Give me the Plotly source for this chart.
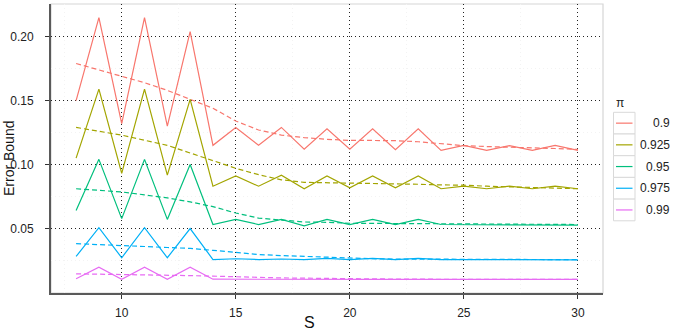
import plotly.graph_objects as go

S = list(range(8, 31))
pi_levels = ["0.9", "0.925", "0.95", "0.975", "0.99"]
colors = ["#F8766D", "#A3A500", "#00BF7D", "#00B0F6", "#E76BF3"]

bound_090 = [0.150, 0.215, 0.132, 0.215, 0.130, 0.204, 0.115, 0.129, 0.115, 0.129, 0.112, 0.128,
             0.112, 0.128, 0.1115, 0.128, 0.111, 0.115, 0.111, 0.1147, 0.111, 0.115, 0.111]
smooth_090 = [0.179, 0.174, 0.169, 0.164, 0.158, 0.151, 0.144, 0.134, 0.127, 0.123, 0.121, 0.1197,
              0.1188, 0.1188, 0.1186, 0.1178, 0.1165, 0.1147, 0.114, 0.1136, 0.113, 0.1125, 0.1118]

bound_0925 = [0.105, 0.159, 0.093, 0.159, 0.0916, 0.151, 0.083, 0.091, 0.083, 0.0916, 0.081, 0.091,
              0.0817, 0.091, 0.0817, 0.091, 0.081, 0.083, 0.081, 0.083, 0.081, 0.083, 0.081]
smooth_0925 = [0.129, 0.126, 0.123, 0.119, 0.115, 0.109, 0.103, 0.097, 0.092, 0.088, 0.086, 0.0858,
               0.0855, 0.085, 0.0848, 0.0845, 0.084, 0.0838, 0.083, 0.0825, 0.082, 0.0815, 0.081]

bound_095 = [0.064, 0.104, 0.0576, 0.104, 0.057, 0.100, 0.053, 0.057, 0.053, 0.057, 0.052, 0.057,
             0.053, 0.057, 0.053, 0.057, 0.053, 0.053, 0.0525, 0.0528, 0.0525, 0.0527, 0.0525]
smooth_095 = [0.081, 0.0798, 0.0785, 0.0762, 0.0738, 0.0707, 0.067, 0.062, 0.058, 0.0565, 0.055, 0.0547,
              0.054, 0.0539, 0.0538, 0.0537, 0.0536, 0.0535, 0.0534, 0.0533, 0.0532, 0.0531, 0.053]

bound_0975 = [0.028, 0.0505, 0.027, 0.0505, 0.027, 0.0498, 0.0256, 0.0262, 0.0256, 0.026, 0.0256, 0.0265,
              0.0255, 0.0265, 0.0256, 0.0265, 0.0256, 0.0256, 0.0254, 0.0255, 0.0254, 0.0255, 0.0253]
smooth_0975 = [0.038, 0.0374, 0.0367, 0.0358, 0.035, 0.0343, 0.0328, 0.031, 0.0295, 0.0287, 0.028, 0.0272,
               0.0265, 0.0262, 0.026, 0.026, 0.026, 0.026, 0.0258, 0.0257, 0.0256, 0.0255, 0.0255]

bound_099 = [0.0105, 0.0196, 0.0102, 0.0196, 0.0102, 0.0196, 0.0102, 0.0101, 0.0100, 0.0100, 0.0100, 0.0100,
             0.0100, 0.0100, 0.0100, 0.0100, 0.0100, 0.0100, 0.0100, 0.0100, 0.0100, 0.0100, 0.0100]
smooth_099 = [0.0144, 0.0142, 0.014, 0.0136, 0.0133, 0.013, 0.0126, 0.012, 0.0115, 0.0112, 0.011, 0.0107,
              0.0105, 0.0104, 0.0103, 0.0102, 0.0101, 0.0101, 0.0100, 0.0100, 0.0100, 0.0100, 0.0100]

bounds = [bound_090, bound_0925, bound_095, bound_0975, bound_099]
smooths = [smooth_090, smooth_0925, smooth_095, smooth_0975, smooth_099]

x_ticks = [10, 15, 20, 25, 30]
y_ticks = [0.05, 0.10, 0.15, 0.20]

W, H = 676, 334
L, R, T, B = 51, 73, 4, 41
PW, PH = W - L - R, H - T - B


def px(x):
    return (x - L) / PW


def py(y):
    return (H - B - y) / PH


fig = go.Figure()
for lvl, col, sm in zip(pi_levels, colors, smooths):
    fig.add_trace(go.Scatter(x=S, y=sm, mode="lines", name=lvl, showlegend=False,
                             line=dict(color=col, width=1.2, dash="5px,3px")))
for lvl, col, bd in zip(pi_levels, colors, bounds):
    fig.add_trace(go.Scatter(x=S, y=bd, mode="lines", name=lvl, showlegend=False,
                             line=dict(color=col, width=1.2)))

font = "Liberation Sans, Arial, sans-serif"
shapes = []
annotations = []
# panel border (light)
shapes.append(dict(type="rect", xref="paper", yref="paper", x0=0, x1=1, y0=0, y1=1,
                   line=dict(color="#d6d6d6", width=1.2), layer="below"))

# manual legend
annotations.append(dict(text="π", xref="paper", yref="paper", x=px(614), y=py(103),
                        xanchor="left", yanchor="middle", showarrow=False,
                        font=dict(size=12, color="#222", family=font)))
top0, rowh = 112.3, 21.7
for i, (lvl, col) in enumerate(zip(pi_levels, colors)):
    t = top0 + i * rowh
    c = t + rowh / 2
    shapes.append(dict(type="rect", xref="paper", yref="paper", x0=px(613.5), x1=px(635),
                       y0=py(t + rowh), y1=py(t), line=dict(color="#d9d9d9", width=1),
                       fillcolor="white"))
    shapes.append(dict(type="line", xref="paper", yref="paper", x0=px(616), x1=px(632.5),
                       y0=py(c), y1=py(c), line=dict(color=col, width=1.2)))
    annotations.append(dict(text=lvl, xref="paper", yref="paper", x=px(672), y=py(c),
                            xanchor="right", yanchor="middle", showarrow=False,
                            font=dict(size=12, color="#222", family=font)))

# axis titles
annotations.append(dict(text="Error Bound", xref="paper", yref="paper", x=px(-1), y=py(159),
                        xanchor="left", yanchor="middle", textangle=-90, showarrow=False,
                        font=dict(size=14, color="#111", family=font)))
annotations.append(dict(text="S", xref="paper", yref="paper", x=px(309), y=py(322),
                        xanchor="center", yanchor="middle", showarrow=False,
                        font=dict(size=16, color="#111", family=font)))

fig.update_layout(
    width=W, height=H, autosize=False,
    margin=dict(l=L, r=R, t=T, b=B, pad=0),
    paper_bgcolor="white", plot_bgcolor="white",
    showlegend=False,
    shapes=shapes, annotations=annotations,
    font=dict(family=font, size=12, color="#222"),
)
fig.update_xaxes(
    range=[6.9, 31.1], tickvals=x_ticks, ticktext=[str(v) for v in x_ticks],
    showgrid=True, gridcolor="#222", gridwidth=1, griddash="1px,3px",
    zeroline=False, showline=True, linecolor="#5a5a5a", linewidth=2,
    ticks="outside", ticklen=4, tickcolor="#333", tickwidth=1, ticklabelstandoff=4,
    tickfont=dict(size=12, color="#222", family=font),
    minor=dict(tickvals=[7.5, 12.5, 17.5, 22.5, 27.5], showgrid=True, gridcolor="#f3f3f3",
               gridwidth=1, ticks=""),
)
fig.update_yaxes(
    range=[-0.0006, 0.2256], tickvals=y_ticks, ticktext=["%.2f" % v for v in y_ticks],
    showgrid=True, gridcolor="#222", gridwidth=1, griddash="1px,3px",
    zeroline=False, showline=True, linecolor="#5a5a5a", linewidth=2,
    ticks="outside", ticklen=4, tickcolor="#333", tickwidth=1, ticklabelstandoff=9,
    tickfont=dict(size=12, color="#222", family=font),
    minor=dict(tickvals=[0.025, 0.075, 0.125, 0.175, 0.225], showgrid=True, gridcolor="#f3f3f3",
               gridwidth=1, ticks=""),
)

fig.write_html("out.html")
